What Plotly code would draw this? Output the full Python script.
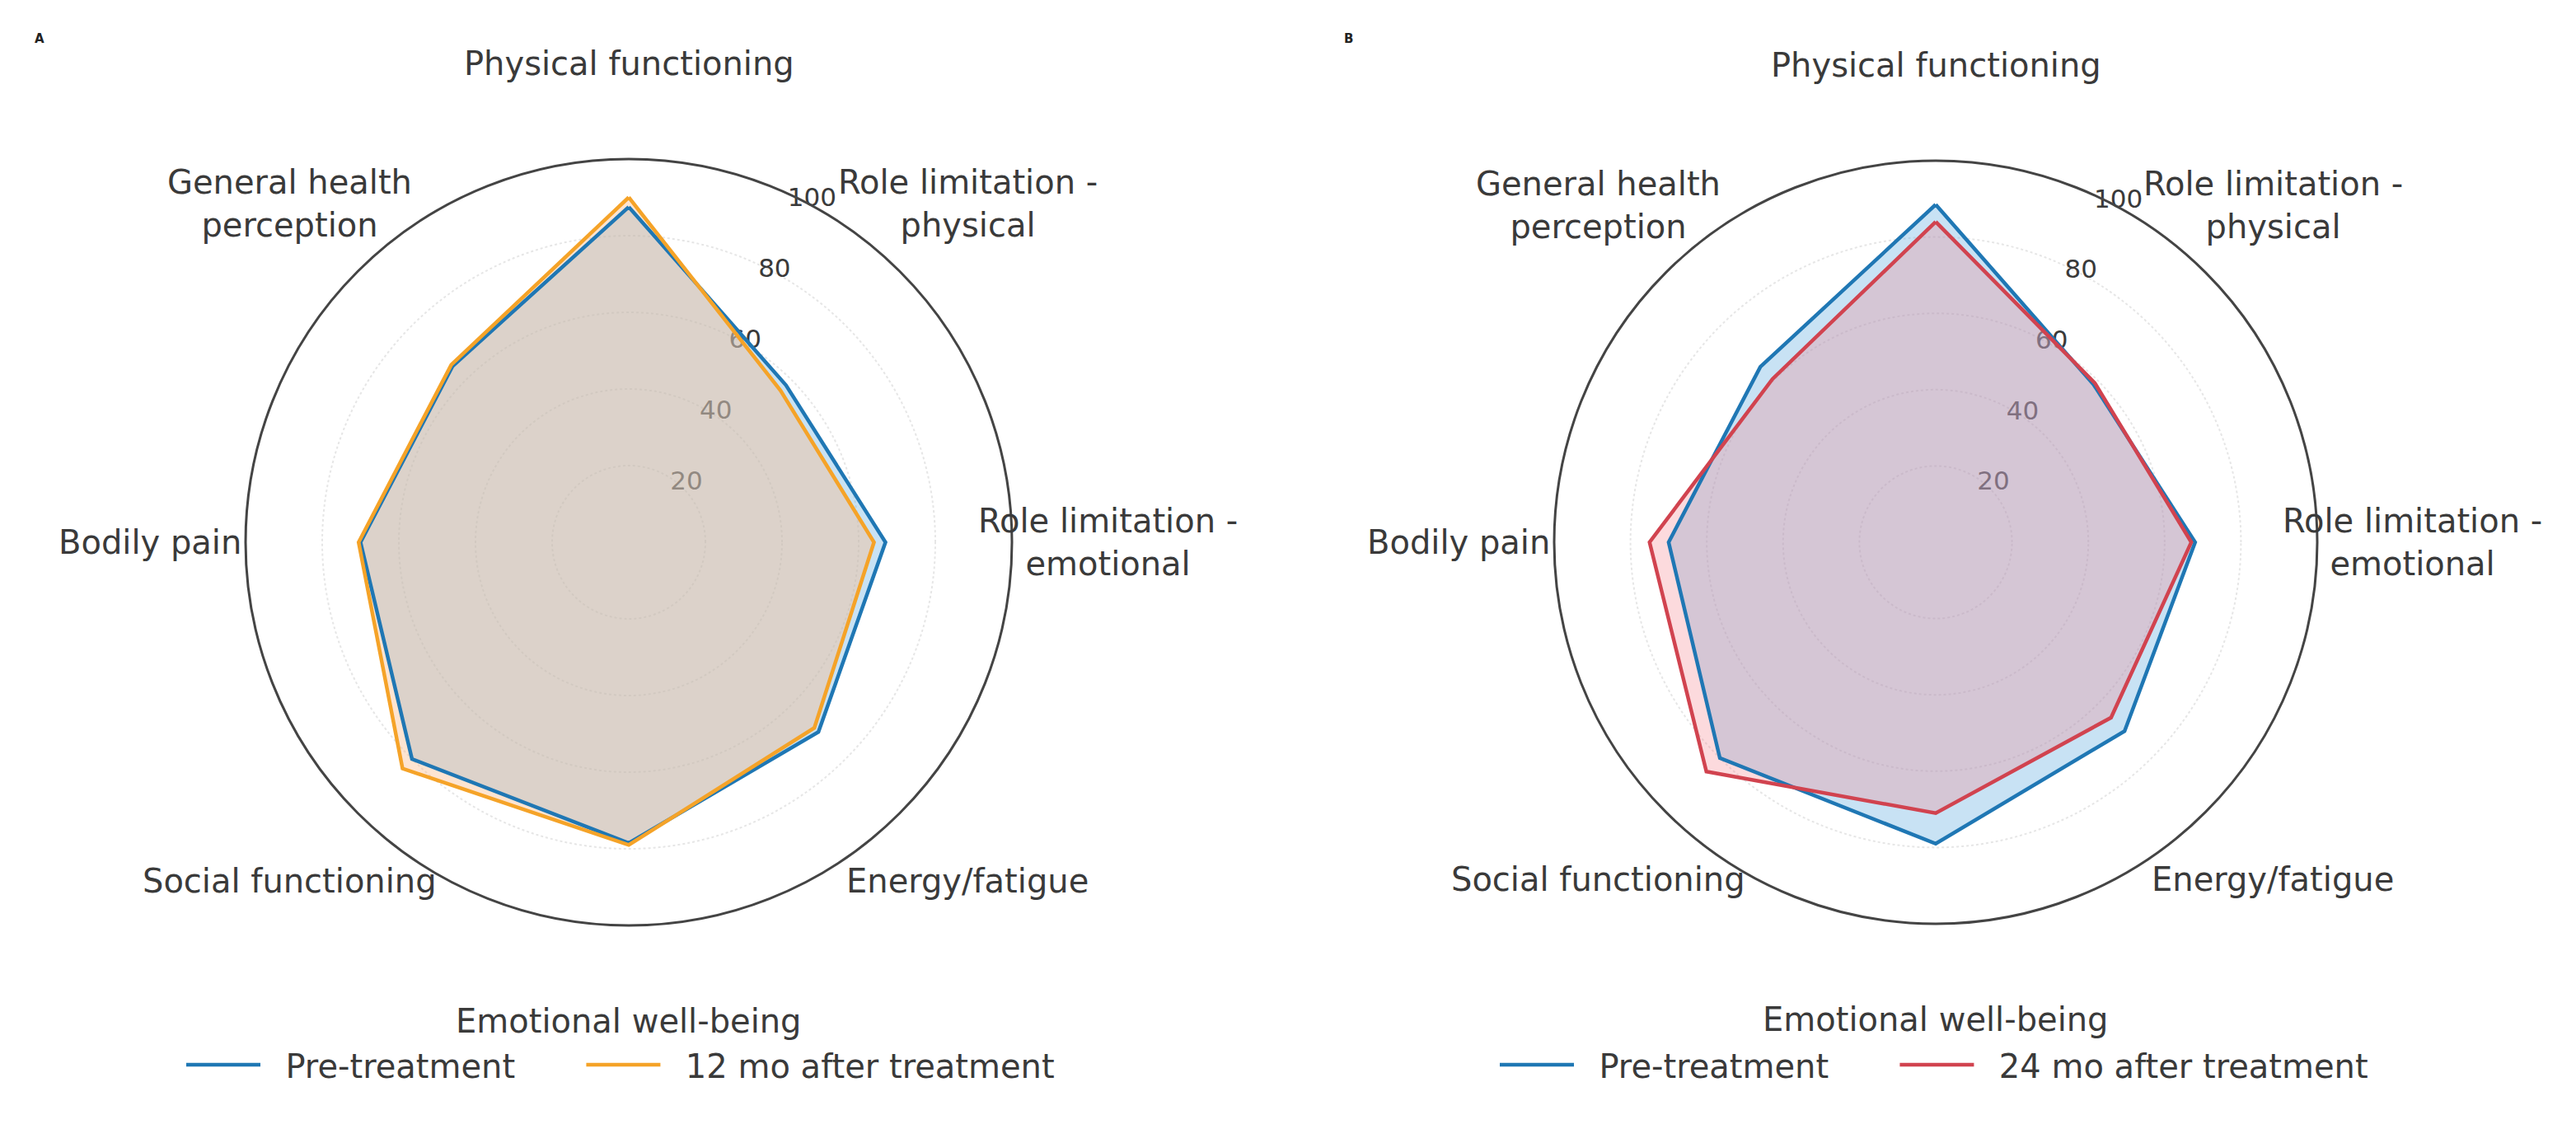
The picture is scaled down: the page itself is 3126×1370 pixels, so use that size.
import math
import plotly.graph_objects as go

categories = ["Physical functioning", "Role limitation -<br>physical", "Role limitation -<br>emotional",
              "Energy/fatigue", "Emotional well-being", "Social functioning", "Bodily pain",
              "General health<br>perception"]

# Panel A
pre_a = [87.5, 58, 67, 70, 78.5, 80, 70, 65]
post12 = [90, 56, 64, 68.5, 79, 83.5, 70.5, 65.5]
# Panel B
pre_b = [88.5, 58.5, 68, 70, 79, 80, 70, 65]
post24 = [84, 59, 67, 65, 71, 85, 75, 60.5]

radial_ticks = [20, 40, 60, 80, 100]

BLUE = "#1f77b4"
ORANGE = "#f5a328"
RED = "#d1434f"
BLUE_FILL = "rgba(110,180,225,0.38)"
ORANGE_FILL = "rgba(250,188,140,0.40)"
RED_FILL = "rgba(246,131,142,0.30)"
TEXT = "#3a3a3a"
LABEL_FACTOR = 1.25
FONT = "DejaVu Sans"
LEAD = "\u00a0\u00a0"
TRAIL = "\u00a0" * 6

W, H = 3126, 1370
PANELS = [  # (cx, cy, R) in pixels
    (763, 658, 465),
    (2349, 658, 463),
]
LEGEND_LEFT = [221, 1815]


def closed(v):
    return list(v) + [v[0]]


fig = go.Figure()


def add_panel(polar, legend, pre, post, post_color, post_fill, post_name):
    th = closed(categories)
    fig.add_trace(go.Scatterpolar(r=closed(pre), theta=th, subplot=polar, fill="toself",
                                  fillcolor=BLUE_FILL, line=dict(width=0, color=BLUE),
                                  mode="lines", showlegend=False, hoverinfo="skip"))
    fig.add_trace(go.Scatterpolar(r=closed(post), theta=th, subplot=polar, fill="toself",
                                  fillcolor=post_fill, line=dict(width=0, color=post_color),
                                  mode="lines", showlegend=False, hoverinfo="skip"))
    fig.add_trace(go.Scatterpolar(r=closed(pre), theta=th, subplot=polar, mode="lines",
                                  line=dict(color=BLUE, width=4.5),
                                  name=LEAD + "Pre-treatment" + TRAIL, legend=legend))
    fig.add_trace(go.Scatterpolar(r=closed(post), theta=th, subplot=polar, mode="lines",
                                  line=dict(color=post_color, width=4.5), name=LEAD + post_name,
                                  legend=legend))


add_panel("polar", "legend", pre_a, post12, ORANGE, ORANGE_FILL, "12 mo after treatment")
add_panel("polar2", "legend2", pre_b, post24, RED, RED_FILL, "24 mo after treatment")


def polar_layout(cx, cy, R):
    return dict(
        domain=dict(x=[(cx - R) / W, (cx + R) / W], y=[(H - cy - R) / H, (H - cy + R) / H]),
        bgcolor="white",
        radialaxis=dict(range=[0, 100], tickvals=radial_ticks, showline=False, ticks="",
                        angle=67.5, tickangle=67.5, gridcolor="#e6e6e6", gridwidth=2, griddash="dot",
                        tickfont=dict(size=31, color=TEXT, family=FONT), layer="below traces"),
        angularaxis=dict(direction="clockwise", rotation=90, showticklabels=False, ticks="",
                         showgrid=False, showline=True, linecolor="#444444", linewidth=3,
                         categoryorder="array", categoryarray=categories),
    )


def legend_layout(left):
    return dict(orientation="h", x=left / W, xanchor="left", y=(H - 1292) / H, yanchor="middle",
                font=dict(size=40, color=TEXT, family=FONT), bgcolor="rgba(0,0,0,0)",
                itemwidth=90, tracegroupgap=0)


annotations = [
    dict(text="<b>A</b>", x=40 / W, y=1 - 36 / H, xref="paper", yref="paper", showarrow=False,
         font=dict(size=15, color="#222")),
    dict(text="<b>B</b>", x=1636 / W, y=1 - 36 / H, xref="paper", yref="paper", showarrow=False,
         font=dict(size=15, color="#222")),
]
# category labels placed around each polar chart (matplotlib-like padding)
n = len(categories)
for cx, cy, R in PANELS:
    for i, cat in enumerate(categories):
        ang = 2 * math.pi * i / n
        px = cx + LABEL_FACTOR * R * math.sin(ang)
        py = cy - LABEL_FACTOR * R * math.cos(ang)
        annotations.append(dict(text=cat, x=px / W, y=1 - py / H, xref="paper", yref="paper",
                                xanchor="center", yanchor="middle", showarrow=False, align="center",
                                font=dict(size=40, color=TEXT, family=FONT)))

fig.update_layout(
    width=W, height=H, margin=dict(l=0, r=0, t=0, b=0),
    paper_bgcolor="white", plot_bgcolor="white",
    font=dict(family=FONT, color=TEXT),
    polar=polar_layout(*PANELS[0]),
    polar2=polar_layout(*PANELS[1]),
    legend=legend_layout(LEGEND_LEFT[0]),
    legend2=legend_layout(LEGEND_LEFT[1]),
    annotations=annotations,
)

fig.write_html("out.html", post_script="document.body.style.margin='0';",
               config={"displayModeBar": False})
